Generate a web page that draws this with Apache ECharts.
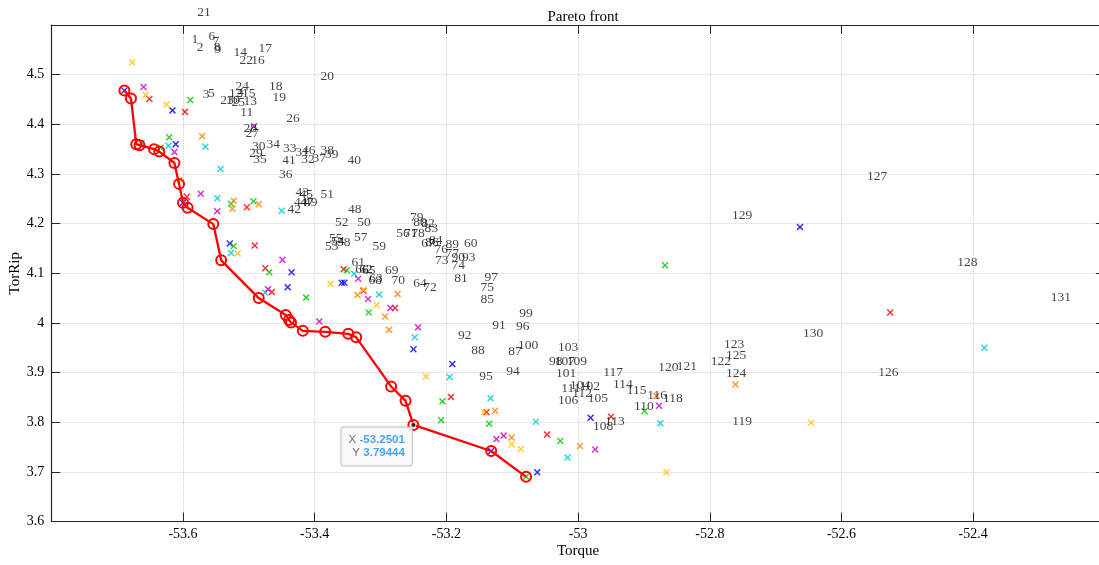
<!DOCTYPE html>
<html>
<head>
<meta charset="utf-8">
<script src="https://cdn.jsdelivr.net/npm/echarts@6/dist/echarts.min.js"></script>
<style>
html,body{margin:0;padding:0;background:#fff;}
#chart{width:1099px;height:565px;}
</style>
</head>
<body>
<div id="chart"></div>
<script>
// Axis ranges
const X_MIN = -53.8, X_MAX = -52.2, X_STEP = 0.2;
const Y_MIN = 3.6, Y_MAX = 4.6, Y_STEP = 0.1;

// Pareto front (Torque, TorRip)
const frontTorque = [-53.689, -53.679, -53.671, -53.666, -53.644, -53.636, -53.613, -53.606, -53.600, -53.593,
  -53.554, -53.542, -53.485, -53.444, -53.439, -53.436, -53.418, -53.384, -53.349, -53.337,
  -53.284, -53.262, -53.2501, -53.132, -53.079];
const frontTorRip = [4.468, 4.452, 4.360, 4.358, 4.350, 4.345, 4.322, 4.280, 4.242, 4.232,
  4.199, 4.126, 4.050, 4.016, 4.006, 4.001, 3.984, 3.982, 3.978, 3.971,
  3.872, 3.843, 3.79444, 3.742, 3.690];

// Selected data point
const tipTorque = -53.2501;
const tipTorRip = 3.79444;

// Candidate solutions, grouped by colour
const pointsBlue = [[-53.689,4.468],[-53.616,4.428],[-53.611,4.360],[-53.600,4.242],[-53.529,4.160],[-53.435,4.102],
  [-53.441,4.072],[-53.359,4.081],[-53.355,4.081],[-53.250,3.947],[-53.191,3.917],[-53.132,3.742],
  [-53.062,3.699],[-52.981,3.809],[-52.663,4.193]];
const pointsRed = [[-53.651,4.451],[-53.597,4.425],[-53.594,4.254],[-53.503,4.233],[-53.491,4.156],[-53.475,4.110],
  [-53.465,4.062],[-53.356,4.108],[-53.326,4.065],[-53.278,4.030],[-53.193,3.851],[-53.139,3.820],
  [-53.047,3.775],[-52.950,3.811],[-52.526,4.021]];
const pointsGreen = [[-53.589,4.449],[-53.621,4.374],[-53.634,4.353],[-53.527,4.240],[-53.493,4.245],[-53.523,4.155],
  [-53.469,4.102],[-53.413,4.051],[-53.351,4.106],[-53.318,4.021],[-53.206,3.842],[-53.208,3.804],
  [-53.135,3.797],[-53.027,3.762],[-52.899,3.822],[-52.868,4.116],[-53.079,3.690]];
const pointsCyan = [[-53.663,4.363],[-53.622,4.357],[-53.566,4.355],[-53.543,4.310],[-53.548,4.251],[-53.450,4.226],
  [-53.527,4.141],[-53.475,4.061],[-53.340,4.099],[-53.302,4.057],[-53.248,3.971],[-53.195,3.891],
  [-53.133,3.848],[-53.064,3.801],[-53.016,3.729],[-52.875,3.798],[-52.383,3.950]];
const pointsMagenta = [[-53.660,4.475],[-53.613,4.344],[-53.492,4.396],[-53.573,4.260],[-53.548,4.225],[-53.449,4.127],
  [-53.471,4.068],[-53.393,4.003],[-53.334,4.089],[-53.319,4.048],[-53.285,4.030],[-53.243,3.991],
  [-53.124,3.766],[-53.113,3.773],[-52.974,3.745],[-52.877,3.833]];
const pointsOrange = [[-53.571,4.376],[-53.523,4.246],[-53.525,4.230],[-53.485,4.239],[-53.335,4.056],[-53.274,4.058],
  [-53.293,4.013],[-53.287,3.986],[-53.126,3.823],[-53.101,3.769],[-52.997,3.752],[-52.881,3.853],
  [-52.761,3.876]];
const pointsYellow = [[-53.677,4.525],[-53.657,4.459],[-53.625,4.440],[-53.605,4.288],[-53.517,4.140],[-53.376,4.079],
  [-53.326,4.067],[-53.306,4.036],[-53.231,3.892],[-53.143,3.820],[-53.101,3.755],[-53.087,3.746],
  [-52.866,3.699],[-52.646,3.799]];

// Numbered annotations: [id, Torque, TorRip]
const labelPoints = [
  [1,-53.582,4.570],[2,-53.574,4.554],[3,-53.565,4.461],[4,-53.513,4.465],[5,-53.557,4.463],
  [6,-53.556,4.576],[7,-53.550,4.566],[8,-53.548,4.554],[9,-53.547,4.550],[10,-53.524,4.449],
  [11,-53.503,4.423],[12,-53.520,4.463],[13,-53.498,4.447],[14,-53.513,4.544],[15,-53.500,4.463],
  [16,-53.486,4.528],[17,-53.475,4.552],[18,-53.459,4.477],[19,-53.454,4.455],[20,-53.381,4.497],
  [21,-53.568,4.626],[22,-53.504,4.528],[23,-53.533,4.449],[24,-53.510,4.477],[25,-53.516,4.445],
  [26,-53.433,4.411],[27,-53.495,4.381],[28,-53.498,4.391],[29,-53.489,4.342],[30,-53.485,4.356],
  [31,-53.419,4.344],[32,-53.410,4.330],[33,-53.438,4.352],[34,-53.463,4.360],[35,-53.483,4.330],
  [36,-53.444,4.298],[37,-53.393,4.332],[38,-53.381,4.348],[39,-53.374,4.340],[40,-53.340,4.328],
  [41,-53.439,4.328],[42,-53.431,4.228],[43,-53.419,4.262],[44,-53.421,4.242],[45,-53.413,4.258],
  [46,-53.409,4.348],[47,-53.412,4.242],[48,-53.339,4.228],[49,-53.406,4.242],[50,-53.325,4.203],
  [51,-53.381,4.258],[52,-53.359,4.203],[53,-53.374,4.153],[54,-53.365,4.165],[55,-53.368,4.171],
  [56,-53.266,4.181],[57,-53.330,4.173],[58,-53.356,4.163],[59,-53.302,4.153],[60,-53.163,4.161],
  [61,-53.334,4.121],[62,-53.322,4.107],[63,-53.307,4.089],[64,-53.240,4.080],[65,-53.318,4.105],
  [66,-53.328,4.107],[67,-53.228,4.161],[68,-53.308,4.085],[69,-53.283,4.105],[70,-53.273,4.085],
  [71,-53.254,4.181],[72,-53.225,4.072],[73,-53.207,4.125],[74,-53.182,4.115],[75,-53.138,4.072],
  [76,-53.208,4.147],[77,-53.191,4.139],[78,-53.243,4.181],[79,-53.245,4.213],[80,-53.240,4.203],
  [81,-53.178,4.089],[82,-53.228,4.201],[83,-53.223,4.191],[84,-53.216,4.167],[85,-53.138,4.048],
  [86,-53.222,4.163],[87,-53.096,3.942],[88,-53.152,3.944],[89,-53.191,4.159],[90,-53.182,4.131],
  [91,-53.120,3.994],[92,-53.172,3.974],[93,-53.166,4.131],[94,-53.099,3.903],[95,-53.140,3.893],
  [96,-53.084,3.992],[97,-53.132,4.091],[98,-53.034,3.923],[99,-53.079,4.020],[100,-53.076,3.954],
  [101,-53.018,3.899],[102,-52.982,3.871],[103,-53.015,3.950],[104,-52.997,3.875],[105,-52.970,3.847],
  [106,-53.015,3.843],[107,-53.020,3.923],[108,-52.962,3.792],[109,-53.002,3.923],[110,-52.900,3.831],
  [111,-53.011,3.867],[112,-52.994,3.857],[113,-52.944,3.801],[114,-52.932,3.877],[115,-52.911,3.863],
  [116,-52.880,3.853],[117,-52.947,3.901],[118,-52.856,3.847],[119,-52.751,3.801],[120,-52.863,3.911],
  [121,-52.835,3.913],[122,-52.783,3.923],[123,-52.763,3.956],[124,-52.760,3.899],[125,-52.760,3.935],
  [126,-52.529,3.901],[127,-52.546,4.294],[128,-52.409,4.121],[129,-52.751,4.217],[130,-52.643,3.978],
  [131,-52.267,4.052]
];

const SERIF = '"Liberation Serif", "DejaVu Serif", serif';
const SANS = '"Liberation Sans", Arial, sans-serif';
const AXIS_COLOR = '#262626';
const CROSS = 'path://M0,1.5L1.5,0L5,3.5L8.5,0L10,1.5L6.5,5L10,8.5L8.5,10L5,6.5L1.5,10L0,8.5L3.5,5Z';

function crossSeries(points, color) {
  return {
    type: 'scatter',
    data: points,
    symbol: CROSS,
    symbolSize: 7,
    itemStyle: { color: color },
    silent: true,
    z: 2
  };
}

const chart = echarts.init(document.getElementById('chart'), null, { renderer: 'canvas' });

const axisText = { color: '#000', fontFamily: SERIF, fontSize: 14 };

chart.setOption({
  animation: false,
  backgroundColor: '#fff',
  title: {
    text: 'Pareto front',
    left: 578,
    top: 5,
    textAlign: 'center',
    textStyle: { fontFamily: SERIF, fontSize: 15, fontWeight: 'normal', color: '#000' }
  },
  grid: { left: 51.3, top: 25, width: 1053.6, height: 496.5, containLabel: false, outerBoundsMode: 'none' },
  xAxis: [{
    type: 'value', min: X_MIN, max: X_MAX, interval: X_STEP, position: 'bottom',
    axisLine: { show: true, onZero: false, lineStyle: { color: AXIS_COLOR, width: 1.2 } },
    axisTick: { show: true, inside: true, length: 9, lineStyle: { color: AXIS_COLOR, width: 1 } },
    axisLabel: Object.assign({ showMinLabel: false, showMaxLabel: false, margin: 6 }, axisText),
    splitLine: { show: true, lineStyle: { type: 'dotted', color: '#cfcfcf', width: 1 } },
    name: 'Torque', nameLocation: 'middle', nameGap: 22, nameMoveOverlap: false,
    nameTextStyle: { fontFamily: SERIF, fontSize: 15, color: '#000' }
  }, {
    type: 'value', min: X_MIN, max: X_MAX, interval: X_STEP, position: 'top',
    axisLine: { show: true, onZero: false, lineStyle: { color: AXIS_COLOR, width: 1.2 } },
    axisTick: { show: true, inside: true, length: 9, lineStyle: { color: AXIS_COLOR, width: 1 } },
    axisLabel: { show: false }, splitLine: { show: false }
  }],
  yAxis: [{
    type: 'value', min: Y_MIN, max: Y_MAX, interval: Y_STEP, position: 'left',
    axisLine: { show: true, onZero: false, lineStyle: { color: AXIS_COLOR, width: 1.2 } },
    axisTick: { show: true, inside: true, length: 9, lineStyle: { color: AXIS_COLOR, width: 1 } },
    axisLabel: Object.assign({ showMaxLabel: false, margin: 7 }, axisText),
    splitLine: { show: true, lineStyle: { type: 'dotted', color: '#cfcfcf', width: 1 } },
    name: 'TorRip', nameLocation: 'middle', nameGap: 29, nameMoveOverlap: false,
    nameTextStyle: { fontFamily: SERIF, fontSize: 15, color: '#000' }
  }, {
    type: 'value', min: Y_MIN, max: Y_MAX, interval: Y_STEP, position: 'right',
    axisLine: { show: true, onZero: false, lineStyle: { color: AXIS_COLOR, width: 1.2 } },
    axisTick: { show: true, inside: true, length: 9, lineStyle: { color: AXIS_COLOR, width: 1 } },
    axisLabel: { show: false }, splitLine: { show: false }
  }],
  series: [
    crossSeries(pointsBlue, '#0000ff'),
    crossSeries(pointsRed, '#ff0000'),
    crossSeries(pointsGreen, '#00c800'),
    crossSeries(pointsCyan, '#00c8d2'),
    crossSeries(pointsMagenta, '#cc00cc'),
    crossSeries(pointsOrange, '#ff8000'),
    crossSeries(pointsYellow, '#ffc000'),
    {
      type: 'scatter',
      data: labelPoints.map(p => ({ name: String(p[0]), value: [p[1], p[2]] })),
      symbolSize: 1,
      itemStyle: { color: 'rgba(0,0,0,0)' },
      clip: false,
      silent: true,
      z: 3,
      label: {
        show: true, position: 'inside', formatter: p => p.name,
        color: '#111', fontFamily: SERIF, fontSize: 13.5
      }
    },
    {
      type: 'line',
      data: frontTorque.map((t, i) => [t, frontTorRip[i]]),
      symbol: 'circle',
      symbolSize: 10,
      showAllSymbol: true,
      lineStyle: { color: '#ff0000', width: 2.3 },
      itemStyle: { color: 'rgba(255,255,255,0)', borderColor: '#ff0000', borderWidth: 2 },
      silent: true,
      z: 4
    },
    {
      type: 'scatter',
      data: [[tipTorque, tipTorRip]],
      symbol: 'circle',
      symbolSize: 5,
      itemStyle: { color: '#111', borderColor: '#ffffff', borderWidth: 1 },
      silent: true,
      z: 6,
      label: {
        show: true,
        position: [1.5, 5.5],
        align: 'right',
        verticalAlign: 'top',
        backgroundColor: 'rgba(255,255,255,0.96)',
        borderColor: '#c4c4c4',
        borderWidth: 1,
        borderRadius: 2,
        shadowColor: 'rgba(0,0,0,0.12)',
        shadowBlur: 2,
        padding: [6, 7, 6, 7],
        formatter: '{k|X} {v|' + tipTorque + '}\n{k|Y} {v|' + tipTorRip + '}',
        rich: {
          k: { color: '#4a4a4a', fontFamily: SANS, fontSize: 11.5, lineHeight: 13 },
          v: { color: '#1a8cf0', fontFamily: SANS, fontSize: 11.5, fontWeight: 'bold', lineHeight: 13 }
        }
      }
    }
  ]
});
</script>
</body>
</html>
